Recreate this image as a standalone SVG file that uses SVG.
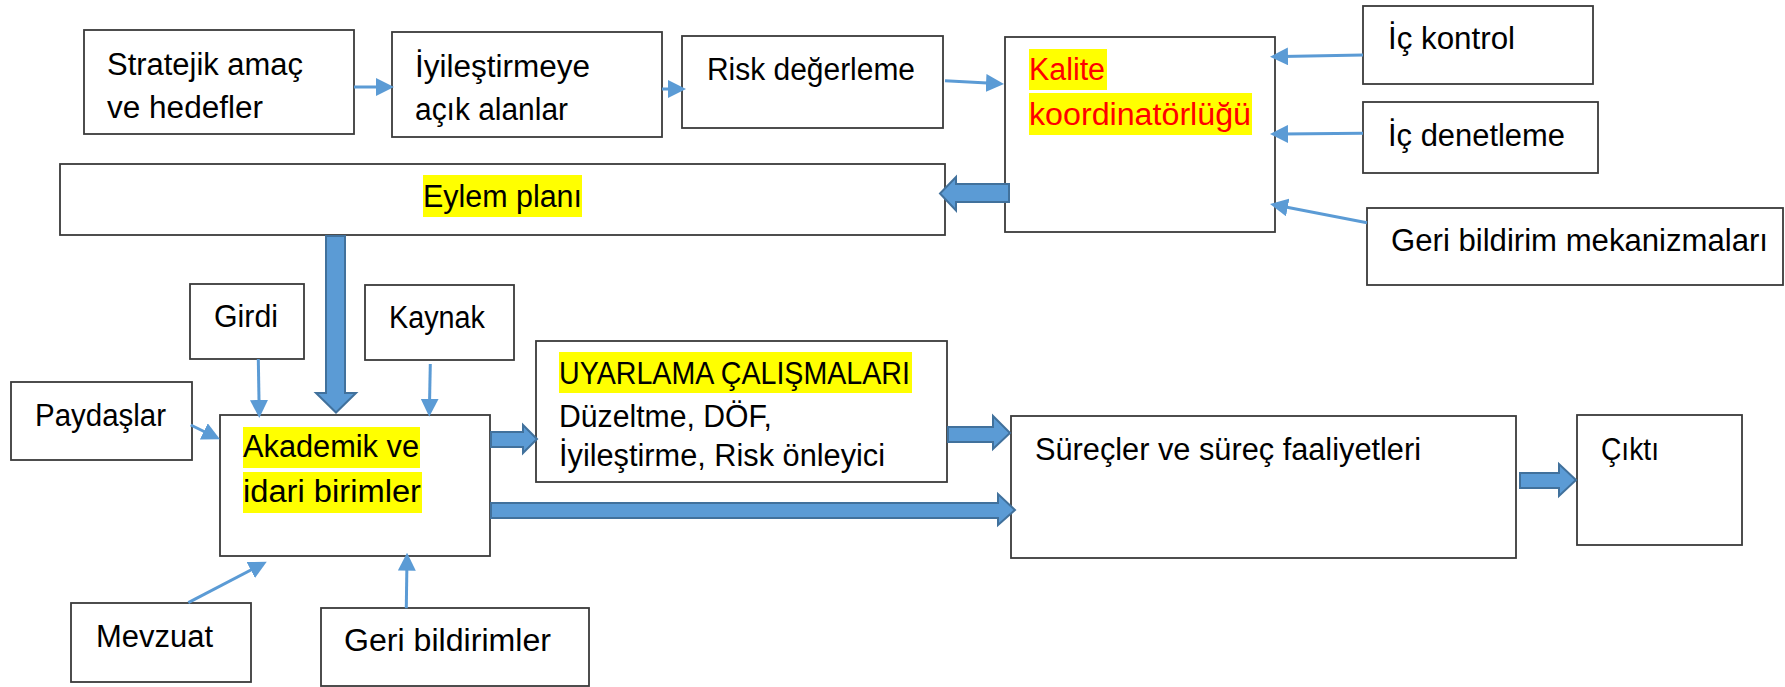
<svg xmlns="http://www.w3.org/2000/svg" width="1785" height="687" viewBox="0 0 1785 687">
<style>
  .box { fill: #ffffff; stroke: #3a3a3a; stroke-width: 1.8; }
  .t { font-family: "Liberation Sans", Arial, sans-serif; font-size: 31px; fill: #000000; }
  .red { fill: #ff0000; }
  .hl { fill: #ffff00; }
  .thin { stroke: #5b9bd5; stroke-width: 3; fill: none; marker-end: url(#ah); }
  .block { fill: #5b9bd5; stroke: #41719c; stroke-width: 2; stroke-linejoin: miter; }
</style>
<defs>
  <marker id="ah" markerUnits="userSpaceOnUse" markerWidth="18" markerHeight="18" refX="6" refY="9" orient="auto">
    <path d="M0,0 L18,9 L0,18 z" fill="#5b9bd5"/>
  </marker>
</defs>
<rect width="1785" height="687" fill="#ffffff"/>

<g id="n-stratejik">
  <rect class="box" x="84" y="30" width="270" height="104"/>
  <text class="t" x="107" y="75" textLength="196" lengthAdjust="spacingAndGlyphs">Stratejik amaç</text>
  <text class="t" x="107" y="118" textLength="156" lengthAdjust="spacingAndGlyphs">ve hedefler</text>
</g>
<g id="n-iyilestirmeye">
  <rect class="box" x="392" y="32" width="270" height="105"/>
  <text class="t" x="415" y="77" textLength="175" lengthAdjust="spacingAndGlyphs">İyileştirmeye</text>
  <text class="t" x="415" y="120" textLength="153" lengthAdjust="spacingAndGlyphs">açık alanlar</text>
</g>
<g id="n-risk">
  <rect class="box" x="682" y="36" width="261" height="92"/>
  <text class="t" x="707" y="80" textLength="208" lengthAdjust="spacingAndGlyphs">Risk değerleme</text>
</g>
<g id="n-kalite">
  <rect class="box" x="1005" y="37" width="270" height="195"/>
  <rect class="hl" x="1029" y="49" width="78" height="41"/>
  <rect class="hl" x="1029" y="93" width="223" height="42"/>
  <text class="t red" x="1029" y="80" textLength="76" lengthAdjust="spacingAndGlyphs">Kalite</text>
  <text class="t red" x="1029" y="125" textLength="222" lengthAdjust="spacingAndGlyphs">koordinatörlüğü</text>
</g>
<g id="n-ickontrol">
  <rect class="box" x="1363" y="6" width="230" height="78"/>
  <text class="t" x="1388" y="49" textLength="127" lengthAdjust="spacingAndGlyphs">İç kontrol</text>
</g>
<g id="n-icdenetleme">
  <rect class="box" x="1363" y="102" width="235" height="71"/>
  <text class="t" x="1388" y="146" textLength="177" lengthAdjust="spacingAndGlyphs">İç denetleme</text>
</g>
<g id="n-geribildirimmek">
  <rect class="box" x="1367" y="208" width="416" height="77"/>
  <text class="t" x="1391" y="251" textLength="377" lengthAdjust="spacingAndGlyphs">Geri bildirim mekanizmaları</text>
</g>
<g id="n-eylem">
  <rect class="box" x="60" y="164" width="885" height="71"/>
  <rect class="hl" x="423" y="175" width="159" height="42"/>
  <text class="t" x="423" y="207" textLength="159" lengthAdjust="spacingAndGlyphs">Eylem planı</text>
</g>
<g id="n-girdi">
  <rect class="box" x="190" y="284" width="114" height="75"/>
  <text class="t" x="214" y="327" textLength="64" lengthAdjust="spacingAndGlyphs">Girdi</text>
</g>
<g id="n-kaynak">
  <rect class="box" x="365" y="285" width="149" height="75"/>
  <text class="t" x="389" y="328" textLength="96" lengthAdjust="spacingAndGlyphs">Kaynak</text>
</g>
<g id="n-paydaslar">
  <rect class="box" x="11" y="382" width="181" height="78"/>
  <text class="t" x="35" y="426" textLength="131" lengthAdjust="spacingAndGlyphs">Paydaşlar</text>
</g>
<g id="n-akademik">
  <rect class="box" x="220" y="415" width="270" height="141"/>
  <rect class="hl" x="243" y="427" width="177" height="41"/>
  <rect class="hl" x="243" y="472" width="179" height="41"/>
  <text class="t" x="243" y="457" textLength="176" lengthAdjust="spacingAndGlyphs">Akademik ve</text>
  <text class="t" x="243" y="502" textLength="178" lengthAdjust="spacingAndGlyphs">idari birimler</text>
</g>
<g id="n-mevzuat">
  <rect class="box" x="71" y="603" width="180" height="79"/>
  <text class="t" x="96" y="647" textLength="117" lengthAdjust="spacingAndGlyphs">Mevzuat</text>
</g>
<g id="n-geribildirimler">
  <rect class="box" x="321" y="608" width="268" height="78"/>
  <text class="t" x="344" y="651" textLength="207" lengthAdjust="spacingAndGlyphs">Geri bildirimler</text>
</g>
<g id="n-uyarlama">
  <rect class="box" x="536" y="341" width="411" height="141"/>
  <rect class="hl" x="559" y="352" width="353" height="41"/>
  <text class="t" x="559" y="384" textLength="351" lengthAdjust="spacingAndGlyphs">UYARLAMA ÇALIŞMALARI</text>
  <text class="t" x="559" y="427" textLength="213" lengthAdjust="spacingAndGlyphs">Düzeltme, DÖF,</text>
  <text class="t" x="559" y="466" textLength="326" lengthAdjust="spacingAndGlyphs">İyileştirme, Risk önleyici</text>
</g>
<g id="n-surecler">
  <rect class="box" x="1011" y="416" width="505" height="142"/>
  <text class="t" x="1035" y="460" textLength="386" lengthAdjust="spacingAndGlyphs">Süreçler ve süreç faaliyetleri</text>
</g>
<g id="n-cikti">
  <rect class="box" x="1577" y="415" width="165" height="130"/>
  <text class="t" x="1601" y="460" textLength="58" lengthAdjust="spacingAndGlyphs">Çıktı</text>
</g>

<g id="connectors">
  <line class="thin" x1="354" y1="87" x2="382" y2="87"/>
  <line class="thin" x1="662" y1="89" x2="674" y2="89"/>
  <line class="thin" x1="945" y1="80.7" x2="992" y2="83.3"/>
  <line class="thin" x1="1363" y1="55" x2="1282" y2="56.5"/>
  <line class="thin" x1="1363" y1="133.3" x2="1282" y2="134"/>
  <line class="thin" x1="1367" y1="222.7" x2="1281.8" y2="206.3"/>
  <line class="thin" x1="258.3" y1="359" x2="259.1" y2="406"/>
  <line class="thin" x1="430.3" y1="364" x2="429.5" y2="404.7"/>
  <line class="thin" x1="190.7" y1="425" x2="209.2" y2="434"/>
  <line class="thin" x1="188.3" y1="602.7" x2="256.1" y2="567.3"/>
  <line class="thin" x1="406.3" y1="608.3" x2="406.9" y2="564.7"/>

  <polygon class="block" points="326,236 345,236 345,393 356,393 336,412.5 316,393 326,393"/>
  <polygon class="block" points="1009,184 956,184 956,177 940,193.5 956,210.5 956,202 1009,202"/>
  <polygon class="block" points="491,432 523,432 523,425 537,439 523,453 523,447 491,447"/>
  <polygon class="block" points="948,427 993,427 993,416 1010,433 993,449 993,442 948,442"/>
  <polygon class="block" points="491,503 998,503 998,494 1015,510 998,525 998,518 491,518"/>
  <polygon class="block" points="1520,473 1559,473 1559,464 1576,480 1559,496 1559,488 1520,488"/>
</g>
</svg>
